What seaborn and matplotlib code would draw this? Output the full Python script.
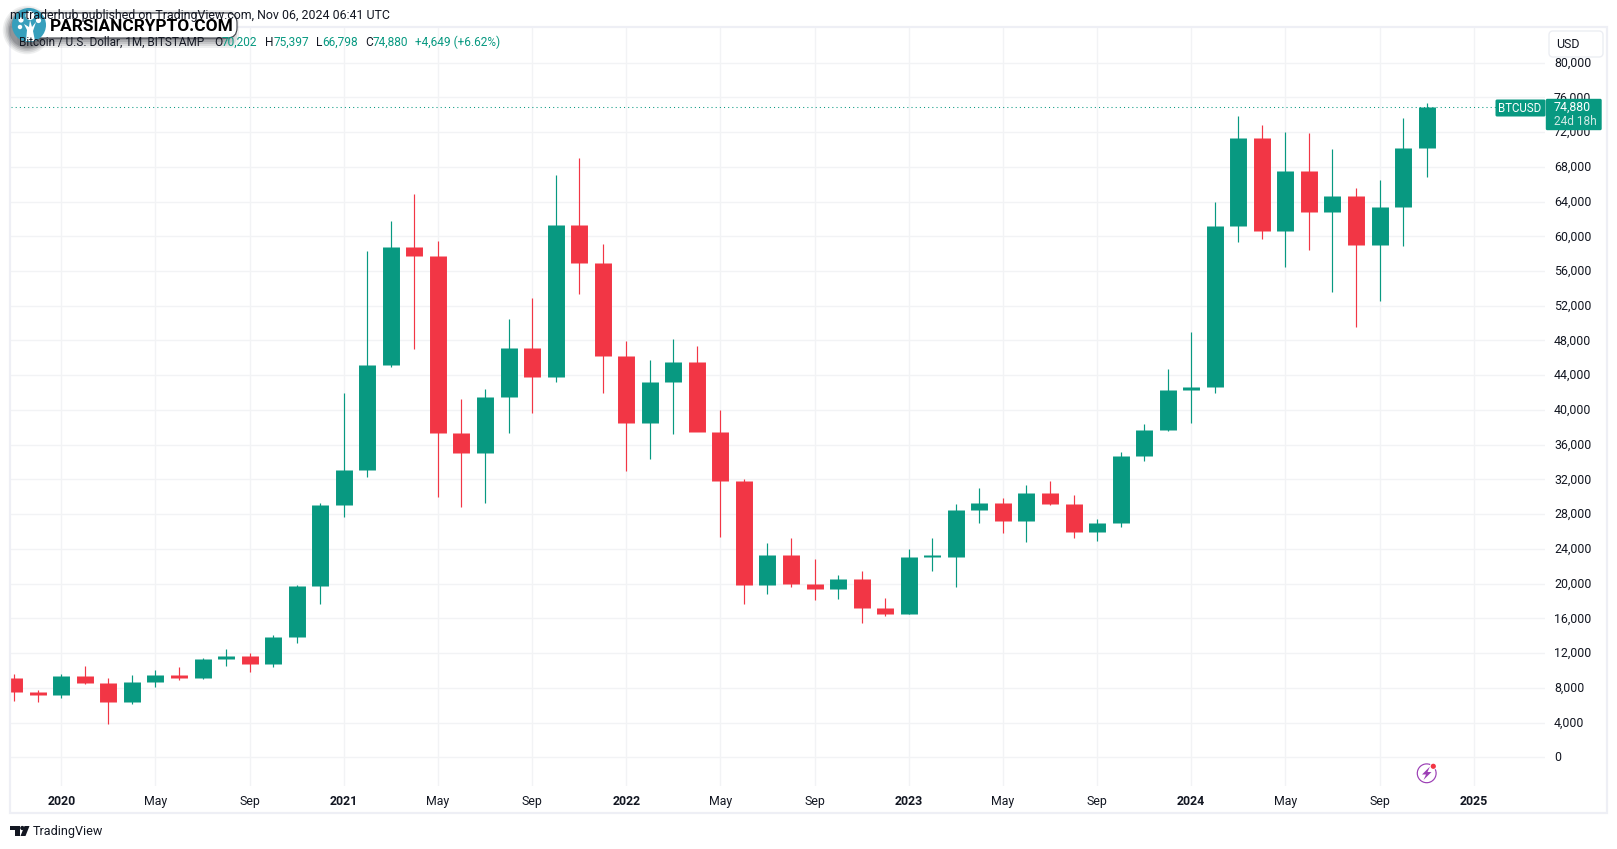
import pandas as pd
import seaborn as sns
import matplotlib.pyplot as plt
from matplotlib.patches import Circle, FancyBboxPatch, Polygon, Wedge, Rectangle
from matplotlib.transforms import ScaledTranslation

# monthly candles, Nov 2019 to Nov 2024
month_idx = list(range(-2, 59))
opens = [9150, 7550, 7170, 9350, 8550, 6420, 8620, 9450, 9140, 11330, 11650, 10780, 13800, 19700,
         29000, 33100, 45200, 58800, 57700, 37300, 35000, 41500, 47100, 43800, 61300, 56900,
         46200, 38500, 43200, 45500, 37500, 31800, 19800, 23300, 20000, 19400, 20500, 17150,
         16500, 23100, 23100, 28500, 29250, 27200, 30450, 29200, 25950, 27000, 34650, 37700,
         42250, 42600, 61150, 71300, 60650, 67500, 62750, 64650, 58950, 63350, 70202]
highs = [9550, 7750, 9580, 10500, 9170, 9460, 10070, 10380, 11430, 12480, 12050, 14100, 19900, 29300,
         42000, 58350, 61800, 64900, 59500, 41300, 42400, 50500, 52900, 67000, 69000, 59100,
         47900, 45800, 48200, 47400, 40000, 32000, 24700, 25200, 22800, 21000, 21450, 18350,
         23950, 25200, 29200, 31000, 29850, 31400, 31800, 30200, 27500, 35200, 38400, 44700,
         49000, 63900, 73800, 72800, 72000, 71950, 70000, 65600, 66500, 73600, 75397]
lows = [6500, 6430, 6850, 8450, 3850, 6150, 8120, 8900, 8970, 10550, 9880, 10380, 13200, 17600,
        27700, 32300, 45000, 47000, 30000, 28800, 29300, 37300, 39600, 43200, 53300, 42000,
        33000, 34300, 37200, 37600, 25400, 17600, 18800, 19600, 18150, 18200, 15500, 16300,
        16500, 21400, 19600, 27000, 25800, 24800, 29000, 25300, 24900, 26500, 34100, 37600,
        38500, 41900, 59300, 59700, 56500, 58400, 53600, 49600, 52600, 58900, 66798]
closes = [7550, 7180, 9350, 8550, 6420, 8620, 9450, 9140, 11330, 11650, 10780, 13800, 19700, 29000,
          33100, 45200, 58800, 57700, 37300, 35000, 41500, 47100, 43800, 61300, 56900, 46200,
          38500, 43200, 45500, 37500, 31800, 19800, 23300, 20000, 19400, 20500, 17150, 16500,
          23100, 23250, 28500, 29250, 27200, 30450, 29200, 25950, 27000, 34650, 37700, 42250,
          42600, 61150, 71300, 60650, 67500, 62750, 64650, 58950, 63350, 70202, 74880]
price_ticks = list(range(0, 80001, 4000))
time_ticks = list(range(0, 61, 4))
time_labels = ['2020', 'May', 'Sep', '2021', 'May', 'Sep', '2022', 'May', 'Sep',
               '2023', 'May', 'Sep', '2024', 'May', 'Sep', '2025']

GREEN = '#089981'
RED = '#F23645'
TEXT = '#131722'
GRID = '#F2F3F5'
FONT = 'Roboto'

df = pd.DataFrame({'month': month_idx, 'open': opens, 'high': highs, 'low': lows, 'close': closes})
df['side'] = ['up' if c >= o else 'down' for o, c in zip(df['open'], df['close'])]
wicks = df.melt(id_vars=['month', 'side'], value_vars=['low', 'high'], value_name='price')
bodies = df.melt(id_vars=['month', 'side'], value_vars=['open', 'close'], value_name='price')
colors = {'up': GREEN, 'down': RED}

sns.set_style('white')
plt.rcParams['font.family'] = [FONT, 'DejaVu Sans']

W, H = 1617, 849
fig = plt.figure(figsize=(W / 100, H / 100), dpi=100, facecolor='white')
# plot area in pixels: x 11-1545, y 28-786
ax = fig.add_axes([11 / W, 1 - 786 / H, (1545 - 11) / W, (786 - 28) / H])

sns.lineplot(data=wicks, x='month', y='price', units='month', hue='side', palette=colors,
             estimator=None, sort=False, legend=False, lw=0.85, solid_capstyle='butt', ax=ax)
sns.lineplot(data=bodies, x='month', y='price', units='month', hue='side', palette=colors,
             estimator=None, sort=False, legend=False, lw=12.2, solid_capstyle='butt', ax=ax)

ax.axhline(closes[-1], color=GREEN, lw=0.75, ls=(0, (1, 3)), zorder=1)

ax.set_xlim(-2.137, 63.03)
ax.set_ylim(-3300, 83984)
ax.set_xticks(time_ticks)
ax.set_xticklabels(time_labels)
ax.set_yticks(price_ticks)
ax.set_yticklabels([f'{p:,}' for p in price_ticks])
ax.yaxis.tick_right()
ax.tick_params(axis='y', length=0, pad=6.5, labelsize=8.9, labelcolor=TEXT)
ax.tick_params(axis='x', length=0, pad=6.5, labelsize=8.9, labelcolor=TEXT)
for lab in ax.get_xticklabels():
    if lab.get_text().isdigit():
        lab.set_fontweight('bold')
# price labels sit a touch above their gridlines
nudge = ScaledTranslation(0, 1 / 100, fig.dpi_scale_trans)
for lab in ax.get_yticklabels():
    lab.set_transform(lab.get_transform() + nudge)
ax.grid(True, color=GRID, lw=1)
ax.set_axisbelow(True)
ax.set_xlabel('')
ax.set_ylabel('')
sns.despine(ax=ax, left=True, bottom=True, right=True, top=True)

# overlay in pixel coordinates for the chart furniture
ov = fig.add_axes([0, 0, 1, 1], zorder=5)
ov.set_xlim(0, W)
ov.set_ylim(H, 0)
ov.axis('off')
ov.patch.set_alpha(0)

ov.add_patch(Rectangle((10, 27), 1597, 786, fill=False, ec='#EEEFF5', lw=1.6))

ov.text(390, 15, 'mrtraderhub published on TradingView.com, Nov 06, 2024 06:41 UTC', ha='right', va='center',
        fontsize=8.9, color=TEXT)
ov.text(18.5, 42, 'Bitcoin / U.S. Dollar, 1M, BITSTAMP', va='center', fontsize=8.5, color=TEXT)
header = [(214, 'O', TEXT), (222, '70,202', GREEN), (265, 'H', TEXT), (273.5, '75,397', GREEN),
          (316, 'L', TEXT), (322.5, '66,798', GREEN), (365, 'C', TEXT), (373, '74,880', GREEN),
          (415, '+4,649 (+6.62%)', GREEN)]
for x, s, c in header:
    ov.text(x, 42, s, va='center', fontsize=8.6, color=c)

# watermark logo with soft shadow
for grow, a in [(9, 0.08), (7, 0.10), (5, 0.13), (3, 0.16), (1, 0.2)]:
    ov.add_patch(FancyBboxPatch((26, 19), 204, 20, boxstyle=f'round,pad={grow},rounding_size=10',
                                fc='#30343c', ec='none', alpha=a))
    ov.add_patch(Circle((27, 30), 17 + grow * 0.8, fc='#30343c', ec='none', alpha=a))
ov.add_patch(FancyBboxPatch((32, 14), 204, 23, boxstyle='round,pad=1,rounding_size=10',
                            fc='white', ec='#3c3f46', lw=0.8))
ov.text(50, 26, 'PARSIANCRYPTO.COM', va='center', fontsize=12.4, fontweight='bold', color='black')
ov.add_patch(Circle((29, 25), 17, fc='#379FBC', ec='none'))
ov.add_patch(Polygon([(26, 41), (27, 30), (24, 24), (29, 27), (30, 20), (32, 27), (36, 22), (33, 31), (35, 41)],
                     fc='white', ec='none'))
for cx, cy, r in [(30, 15.5, 4.5), (21, 20, 2.6), (38.5, 20.5, 2.6), (20, 27, 2.2)]:
    ov.add_patch(Circle((cx, cy), r, fc='white', ec='none'))

# currency button
ov.add_patch(FancyBboxPatch((1551, 33), 50, 22, boxstyle='round,pad=2,rounding_size=4',
                            fc='white', ec='#ECEEF3', lw=1))
ov.text(1568, 44, 'USD', ha='center', va='center', fontsize=8.9, color=TEXT)

# last price labels
ov.add_patch(FancyBboxPatch((1496, 100), 49, 16, boxstyle='round,pad=0.5,rounding_size=1.5', fc=GREEN, ec='none'))
ov.add_patch(FancyBboxPatch((1546, 99), 55.5, 31, boxstyle='round,pad=0.2,rounding_size=1.5', fc=GREEN, ec='none'))
ov.text(1520, 108, 'BTCUSD', ha='center', va='center', fontsize=8.3, color='white')
ov.text(1554, 107, '74,880', va='center', fontsize=8.9, color='white')
ov.text(1554, 121, '24d 18h', va='center', fontsize=8.6, color='#CFEAE5')

# bolt badge
ov.add_patch(Wedge((1426.7, 773.3), 10, 0, 360, width=1.2, fc='#9C3FB5', ec='none'))
ov.add_patch(Polygon([(1430, 766.5), (1422, 774.5), (1426, 774.5), (1423.5, 780), (1431.5, 772), (1427.5, 772)],
                     fc='#9C3FB5', ec='none'))
ov.add_patch(Circle((1433.3, 766.3), 3.6, fc='white', ec='none'))
ov.add_patch(Circle((1433.3, 766.3), 2.6, fc=RED, ec='none'))

# TradingView mark
ov.add_patch(Polygon([(10, 826), (19.5, 826), (19.5, 836), (14.7, 836), (14.7, 830.2), (10, 830.2)], fc='#131722', ec='none'))
ov.add_patch(Circle((22.3, 828), 2.1, fc='#131722', ec='none'))
ov.add_patch(Polygon([(24.5, 826), (29.5, 826), (25.5, 836), (20.5, 836)], fc='#131722', ec='none'))
ov.text(33, 832, 'TradingView', va='center', fontsize=9.1, color=TEXT)

fig.savefig('out.png', dpi=100, facecolor='white')
